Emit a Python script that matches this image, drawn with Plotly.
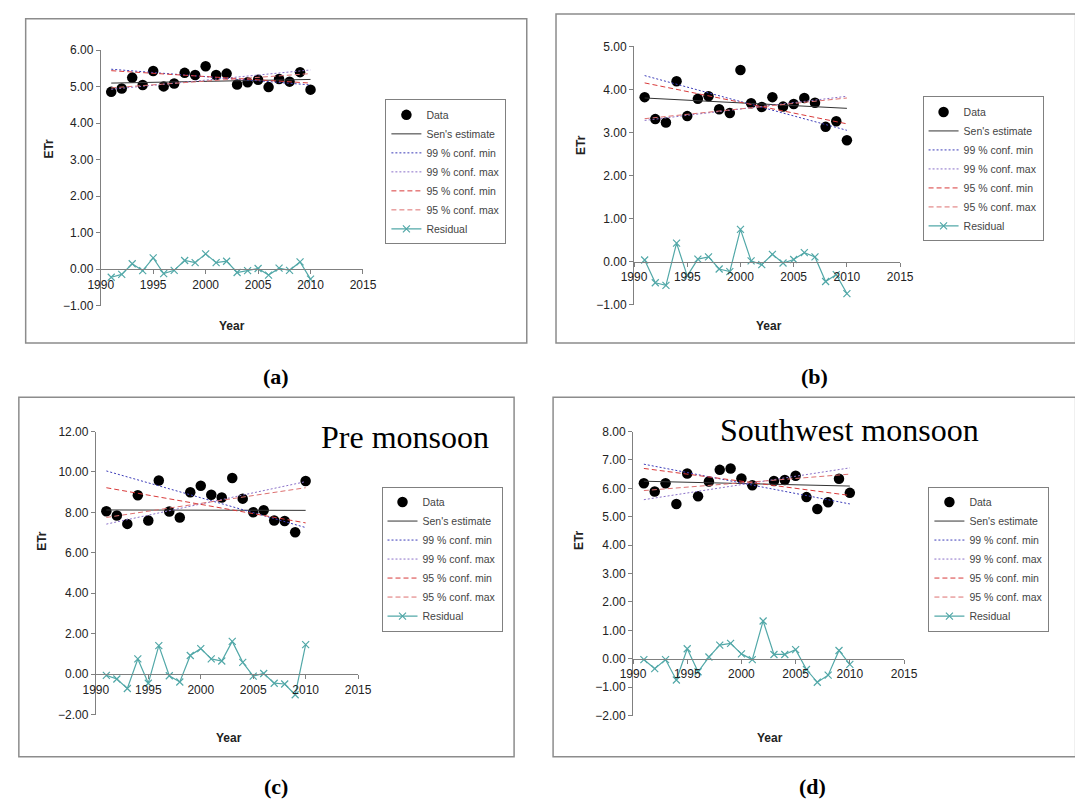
import plotly.graph_objects as go

W, H = 1075, 809

years = list(range(1991, 2011))
trend_years = [1991, 2010]

# ---- panel (a)
a_data = [4.86, 4.95, 5.25, 5.05, 5.43, 5.01, 5.09, 5.38, 5.32, 5.56,
          5.32, 5.36, 5.06, 5.12, 5.19, 4.99, 5.21, 5.14, 5.40, 4.92]
a_resid = [-0.22, -0.14, 0.15, -0.04, 0.31, -0.12, -0.03, 0.24, 0.18, 0.42,
           0.18, 0.22, -0.09, -0.04, 0.02, -0.16, 0.03, -0.03, 0.20, -0.27]
a_sen = [5.10, 5.20]
a_c99min = [5.48, 5.05]
a_c99max = [4.93, 5.46]
a_c95min = [5.44, 5.10]
a_c95max = [4.97, 5.36]

# ---- panel (b)
b_data = [3.82, 3.31, 3.23, 4.19, 3.38, 3.78, 3.84, 3.54, 3.45, 4.45,
          3.68, 3.59, 3.82, 3.60, 3.66, 3.80, 3.69, 3.13, 3.26, 2.82]
b_resid = [0.04, -0.49, -0.55, 0.43, -0.33, 0.06, 0.11, -0.17, -0.23, 0.75,
           0.02, -0.07, 0.17, -0.03, 0.05, 0.21, 0.11, -0.46, -0.30, -0.74]
b_sen = [3.80, 3.56]
b_c99min = [4.32, 3.05]
b_c99max = [3.28, 3.84]
b_c95min = [4.15, 3.20]
b_c95max = [3.32, 3.80]

# ---- panel (c)
c_data = [8.06, 7.85, 7.43, 8.85, 7.60, 9.58, 8.04, 7.75, 9.00, 9.32,
          8.87, 8.74, 9.70, 8.68, 8.01, 8.11, 7.60, 7.57, 7.02, 9.55]
c_resid = [-0.06, -0.24, -0.71, 0.75, -0.45, 1.41, -0.08, -0.39, 0.92, 1.26,
           0.75, 0.65, 1.62, 0.58, -0.10, 0.03, -0.45, -0.49, -1.02, 1.46]
c_sen = [8.12, 8.10]
c_c99min = [10.05, 7.25]
c_c99max = [7.42, 9.52]
c_c95min = [9.22, 7.48]
c_c95max = [7.75, 9.22]

# ---- panel (d)
d_data = [6.18, 5.89, 6.18, 5.45, 6.52, 5.72, 6.24, 6.65, 6.70, 6.35,
          6.11, 7.48, 6.26, 6.29, 6.44, 5.69, 5.27, 5.51, 6.34, 5.84]
d_resid = [-0.03, -0.35, -0.03, -0.75, 0.35, -0.46, 0.06, 0.48, 0.54, 0.17,
           -0.03, 1.33, 0.15, 0.15, 0.32, -0.38, -0.83, -0.58, 0.29, -0.20]
d_sen = [6.25, 6.08]
d_c99min = [6.85, 5.45]
d_c99max = [5.60, 6.72]
d_c95min = [6.70, 5.75]
d_c95max = [5.92, 6.50]

legend_names = ["Data", "Sen's estimate", "99 % conf. min", "99 % conf. max",
                "95 % conf. min", "95 % conf. max", "Residual"]
x_ticks = [1990, 1995, 2000, 2005, 2010, 2015]
panel_labels = ["(a)", "(b)", "(c)", "(d)"]
panel_titles = ["", "", "Pre monsoon", "Southwest monsoon"]


def px(x):
    return x / W


def py(y):
    return 1 - y / H


panels = [
    dict(data=a_data, resid=a_resid, sen=a_sen, c99min=a_c99min, c99max=a_c99max,
         c95min=a_c95min, c95max=a_c95max, yr=[-1, 6], dt=1,
         xd=(90, 359), yd=(44, 304), leg=(382, 94), box=(13, 12, 527, 342),
         ety=(36, 144), yearxy=(225, 325), lab=(270, 376), title=None),
    dict(data=b_data, resid=b_resid, sen=b_sen, c99min=b_c99min, c99max=b_c99max,
         c95min=b_c95min, c95max=b_c95max, yr=[-1, 5], dt=1,
         xd=(637, 910), yd=(40, 303), leg=(933, 91), box=(557, 7, 1090, 342),
         ety=(582, 140), yearxy=(775, 325), lab=(822, 376), title=None),
    dict(data=c_data, resid=c_resid, sen=c_sen, c99min=c_c99min, c99max=c_c99max,
         c95min=c_c95min, c95max=c_c95max, yr=[-2, 12], dt=2,
         xd=(85, 354), yd=(432, 720), leg=(378, 488), box=(6, 397, 514, 763),
         ety=(29, 543), yearxy=(222, 744), lab=(270, 793), title=(402, 438)),
    dict(data=d_data, resid=d_resid, sen=d_sen, c99min=d_c99min, c99max=d_c99max,
         c95min=d_c95min, c95max=d_c95max, yr=[-2, 8], dt=1,
         xd=(636, 914), yd=(432, 721), leg=(939, 488), box=(554, 397, 1090, 763),
         ety=(580, 542), yearxy=(777, 744), lab=(820, 793), title=(858, 430)),
]

fig = go.Figure()
layout = {}
shapes = []
annotations = []
teal = "#52a8a8"

for i, p in enumerate(panels):
    n = "" if i == 0 else str(i + 1)
    xa, ya = "x" + n, "y" + n
    lg = "legend" + n
    styles = [
        ("sen", dict(color="#333333", width=1, dash="solid")),
        ("c99min", dict(color="#3b3bb8", width=1, dash="2px,2px")),
        ("c99max", dict(color="#8a70c8", width=1, dash="2px,2px")),
        ("c95min", dict(color="#d83a3a", width=1, dash="5px,3px")),
        ("c95max", dict(color="#dd7070", width=1, dash="5px,3px")),
    ]
    fig.add_trace(go.Scatter(x=years, y=p["data"], mode="markers", name=legend_names[0],
                             marker=dict(color="black", size=10.5), xaxis=xa, yaxis=ya,
                             legend=lg))
    for k, (key, st) in enumerate(styles):
        fig.add_trace(go.Scatter(x=trend_years, y=p[key], mode="lines",
                                 name=legend_names[k + 1], line=st, xaxis=xa, yaxis=ya,
                                 legend=lg))
    fig.add_trace(go.Scatter(x=years, y=p["resid"], mode="lines+markers", name=legend_names[6],
                             line=dict(color=teal, width=1.2),
                             marker=dict(symbol="x-thin", size=7, line=dict(color=teal, width=1.2)),
                             xaxis=xa, yaxis=ya, legend=lg))

    y0, y1 = p["yr"]
    ybot, ytop = py(p["yd"][1]), py(p["yd"][0])
    zero_pos = ybot + (0 - y0) / (y1 - y0) * (ytop - ybot)
    layout["xaxis" + n] = dict(domain=[px(p["xd"][0]), px(p["xd"][1])], range=[1990, 2015],
                               tickvals=x_ticks, anchor="free", position=zero_pos,
                               showline=True, linecolor="#808080", linewidth=1,
                               ticks="outside", ticklen=4, tickcolor="#808080",
                               showgrid=False, zeroline=False,
                               tickfont=dict(family="Arial", size=12, color="#222222"))
    layout["yaxis" + n] = dict(domain=[ybot, ytop], range=[y0, y1], dtick=p["dt"],
                               tick0=0, tickformat=".2f", anchor=xa,
                               showline=True, linecolor="#808080", linewidth=1,
                               ticks="outside", ticklen=4, tickcolor="#808080",
                               showgrid=False, zeroline=False,
                               tickfont=dict(family="Arial", size=12, color="#222222"))
    layout[lg] = dict(x=px(p["leg"][0]), y=py(p["leg"][1]), xanchor="left", yanchor="top",
                      bgcolor="white", bordercolor="#808080", borderwidth=1,
                      font=dict(family="Arial", size=10.5, color="#444444"))
    bx0, by0, bx1, by1 = p["box"]
    shapes.append(dict(type="rect", xref="paper", yref="paper", x0=px(bx0), x1=px(bx1),
                       y0=py(by1), y1=py(by0), line=dict(color="#8c8c8c", width=1.5),
                       layer="below"))
    annotations.append(dict(text="<b>ETr</b>", x=px(p["ety"][0]), y=py(p["ety"][1]),
                            xref="paper", yref="paper", showarrow=False, textangle=-90,
                            xanchor="center", yanchor="middle",
                            font=dict(family="Arial", size=12, color="#222222")))
    annotations.append(dict(text="<b>Year</b>", x=px(p["yearxy"][0]), y=py(p["yearxy"][1]),
                            xref="paper", yref="paper", showarrow=False,
                            xanchor="center", yanchor="middle",
                            font=dict(family="Arial", size=12, color="#222222")))
    annotations.append(dict(text="<b>" + panel_labels[i] + "</b>", x=px(p["lab"][0]),
                            y=py(p["lab"][1]), xref="paper", yref="paper", showarrow=False,
                            xanchor="center", yanchor="middle",
                            font=dict(family="Liberation Serif", size=22, color="black")))
    if p["title"]:
        annotations.append(dict(text=panel_titles[i], x=px(p["title"][0]), y=py(p["title"][1]),
                                xref="paper", yref="paper", showarrow=False,
                                xanchor="center", yanchor="middle",
                                bgcolor="white", borderpad=8,
                                font=dict(family="Liberation Serif", size=32, color="black")))

fig.update_layout(width=W, height=H, margin=dict(l=0, r=0, t=0, b=0),
                  paper_bgcolor="white", plot_bgcolor="rgba(0,0,0,0)",
                  showlegend=True, shapes=shapes, annotations=annotations, **layout)
fig.write_html("out.html", config={"displayModeBar": False},
               post_script="document.body.style.margin='0px';")
